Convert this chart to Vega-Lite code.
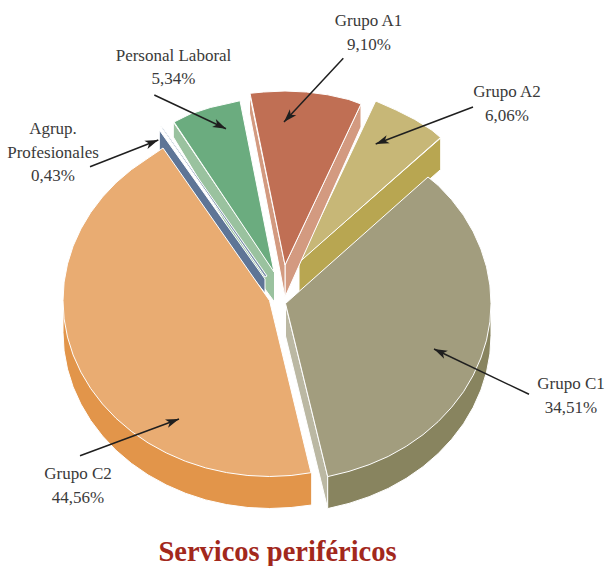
{"$schema":"https://vega.github.io/schema/vega-lite/v6.json","width":608,"height":566,"padding":0,"autosize":{"type":"none"},"background":"white","config":{"view":{"stroke":null}},
"datasets":{"faces":[
{"part":"A2 lateral","i":0,"x":299,"y":262},{"part":"A2 lateral","i":1,"x":440.7,"y":138},{"part":"A2 lateral","i":2,"x":440.7,"y":169.5},{"part":"A2 lateral","i":3,"x":299,"y":294},{"part":"A2 lateral","i":4,"x":299,"y":262},
{"part":"A2 top","i":0,"x":299.5,"y":262},{"part":"A2 top","i":1,"x":375.7,"y":101},{"part":"A2 top","i":2,"x":396.2,"y":110.1},{"part":"A2 top","i":3,"x":414.7,"y":119.4},{"part":"A2 top","i":4,"x":431.9,"y":130.2},{"part":"A2 top","i":5,"x":440.5,"y":137.5},{"part":"A2 top","i":6,"x":299.5,"y":262},
{"part":"A1 right","i":0,"x":285,"y":265},{"part":"A1 right","i":1,"x":361,"y":104},{"part":"A1 right","i":2,"x":361,"y":127},{"part":"A1 right","i":3,"x":285,"y":297},{"part":"A1 right","i":4,"x":285,"y":265},
{"part":"A1 left","i":0,"x":285,"y":265},{"part":"A1 left","i":1,"x":249.5,"y":94},{"part":"A1 left","i":2,"x":249.5,"y":113},{"part":"A1 left","i":3,"x":285,"y":297},{"part":"A1 left","i":4,"x":285,"y":265},
{"part":"A1 top","i":0,"x":285,"y":265},{"part":"A1 top","i":1,"x":250,"y":93.3},{"part":"A1 top","i":2,"x":263.5,"y":92},{"part":"A1 top","i":3,"x":285,"y":91},{"part":"A1 top","i":4,"x":306.5,"y":92},{"part":"A1 top","i":5,"x":327.8,"y":94.8},{"part":"A1 top","i":6,"x":348.7,"y":99.5},{"part":"A1 top","i":7,"x":361,"y":104},{"part":"A1 top","i":8,"x":285,"y":265},
{"part":"C1 inner","i":0,"x":285.5,"y":304},{"part":"C1 inner","i":1,"x":327.7,"y":476.6},{"part":"C1 inner","i":2,"x":327.7,"y":508.6},{"part":"C1 inner","i":3,"x":285.5,"y":336},{"part":"C1 inner","i":4,"x":285.5,"y":304},
{"part":"C1 lateral","i":0,"x":491,"y":303.5},{"part":"C1 lateral","i":1,"x":491,"y":335.5},{"part":"C1 lateral","i":2,"x":489.9,"y":353.9},{"part":"C1 lateral","i":3,"x":486.5,"y":372.2},{"part":"C1 lateral","i":4,"x":480.9,"y":390},{"part":"C1 lateral","i":5,"x":473.2,"y":407.3},{"part":"C1 lateral","i":6,"x":463.5,"y":423.75},{"part":"C1 lateral","i":7,"x":451.7,"y":439.2},{"part":"C1 lateral","i":8,"x":438.2,"y":453.6},{"part":"C1 lateral","i":9,"x":423,"y":466.7},{"part":"C1 lateral","i":10,"x":406.3,"y":478.3},{"part":"C1 lateral","i":11,"x":388.3,"y":488.4},{"part":"C1 lateral","i":12,"x":369.1,"y":496.7},{"part":"C1 lateral","i":13,"x":349,"y":503.4},{"part":"C1 lateral","i":14,"x":327.7,"y":508.6},{"part":"C1 lateral","i":15,"x":327.7,"y":476},{"part":"C1 lateral","i":16,"x":400,"y":350},{"part":"C1 lateral","i":17,"x":491,"y":303.5},
{"part":"C1 top","i":0,"x":285.5,"y":303.5},{"part":"C1 top","i":1,"x":428,"y":177},{"part":"C1 top","i":2,"x":438.2,"y":185.4},{"part":"C1 top","i":3,"x":451.7,"y":199.8},{"part":"C1 top","i":4,"x":463.5,"y":215.25},{"part":"C1 top","i":5,"x":473.2,"y":231.7},{"part":"C1 top","i":6,"x":480.9,"y":249},{"part":"C1 top","i":7,"x":486.5,"y":266.8},{"part":"C1 top","i":8,"x":489.9,"y":285.1},{"part":"C1 top","i":9,"x":491,"y":303.5},{"part":"C1 top","i":10,"x":489.9,"y":321.9},{"part":"C1 top","i":11,"x":486.5,"y":340.2},{"part":"C1 top","i":12,"x":480.9,"y":358},{"part":"C1 top","i":13,"x":473.2,"y":375.3},{"part":"C1 top","i":14,"x":463.5,"y":391.75},{"part":"C1 top","i":15,"x":451.7,"y":407.2},{"part":"C1 top","i":16,"x":438.2,"y":421.6},{"part":"C1 top","i":17,"x":423,"y":434.7},{"part":"C1 top","i":18,"x":406.3,"y":446.3},{"part":"C1 top","i":19,"x":388.3,"y":456.4},{"part":"C1 top","i":20,"x":369.1,"y":464.7},{"part":"C1 top","i":21,"x":349,"y":471.4},{"part":"C1 top","i":22,"x":327.7,"y":476.6},{"part":"C1 top","i":23,"x":285.5,"y":303.5},
{"part":"PL lateral","i":0,"x":173.3,"y":122},{"part":"PL lateral","i":1,"x":274.5,"y":272},{"part":"PL lateral","i":2,"x":274.5,"y":302},{"part":"PL lateral","i":3,"x":265,"y":289},{"part":"PL lateral","i":4,"x":173.3,"y":137},{"part":"PL lateral","i":5,"x":173.3,"y":122},
{"part":"PL top","i":0,"x":274,"y":272},{"part":"PL top","i":1,"x":174,"y":122},{"part":"PL top","i":2,"x":190.2,"y":114},{"part":"PL top","i":3,"x":210.3,"y":107.5},{"part":"PL top","i":4,"x":231.2,"y":102.8},{"part":"PL top","i":5,"x":240,"y":100.7},{"part":"PL top","i":6,"x":274,"y":272},
{"part":"AP lateral","i":0,"x":159.3,"y":130},{"part":"AP lateral","i":1,"x":265,"y":279},{"part":"AP lateral","i":2,"x":265,"y":293},{"part":"AP lateral","i":3,"x":159.3,"y":160},{"part":"AP lateral","i":4,"x":159.3,"y":130},
{"part":"AP top","i":0,"x":160.5,"y":126},{"part":"AP top","i":1,"x":163,"y":128},{"part":"AP top","i":2,"x":267,"y":276},{"part":"AP top","i":3,"x":265,"y":277},{"part":"AP top","i":4,"x":160.5,"y":126},
{"part":"C2 lateral","i":0,"x":311.7,"y":505},{"part":"C2 lateral","i":1,"x":291.1,"y":507.5},{"part":"C2 lateral","i":2,"x":269.5,"y":508.5},{"part":"C2 lateral","i":3,"x":247.9,"y":507.5},{"part":"C2 lateral","i":4,"x":226.6,"y":504.6},{"part":"C2 lateral","i":5,"x":205.7,"y":499.9},{"part":"C2 lateral","i":6,"x":185.5,"y":493.3},{"part":"C2 lateral","i":7,"x":166.25,"y":484.9},{"part":"C2 lateral","i":8,"x":148.1,"y":474.9},{"part":"C2 lateral","i":9,"x":131.3,"y":463.3},{"part":"C2 lateral","i":10,"x":116,"y":450.3},{"part":"C2 lateral","i":11,"x":102.5,"y":436},{"part":"C2 lateral","i":12,"x":90.7,"y":420.5},{"part":"C2 lateral","i":13,"x":80.9,"y":404.1},{"part":"C2 lateral","i":14,"x":73.1,"y":386.9},{"part":"C2 lateral","i":15,"x":67.5,"y":369.1},{"part":"C2 lateral","i":16,"x":64.1,"y":350.9},{"part":"C2 lateral","i":17,"x":63,"y":332.5},{"part":"C2 lateral","i":18,"x":63,"y":300.5},{"part":"C2 lateral","i":19,"x":200,"y":300},{"part":"C2 lateral","i":20,"x":311.7,"y":473},{"part":"C2 lateral","i":21,"x":311.7,"y":505},
{"part":"C2 top","i":0,"x":269.5,"y":300.5},{"part":"C2 top","i":1,"x":311,"y":472.7},{"part":"C2 top","i":2,"x":291.1,"y":475.5},{"part":"C2 top","i":3,"x":269.5,"y":476.5},{"part":"C2 top","i":4,"x":247.9,"y":475.5},{"part":"C2 top","i":5,"x":226.6,"y":472.6},{"part":"C2 top","i":6,"x":205.7,"y":467.9},{"part":"C2 top","i":7,"x":185.5,"y":461.3},{"part":"C2 top","i":8,"x":166.25,"y":452.9},{"part":"C2 top","i":9,"x":148.1,"y":442.9},{"part":"C2 top","i":10,"x":131.3,"y":431.3},{"part":"C2 top","i":11,"x":116,"y":418.3},{"part":"C2 top","i":12,"x":102.5,"y":404},{"part":"C2 top","i":13,"x":90.7,"y":388.5},{"part":"C2 top","i":14,"x":80.9,"y":372.1},{"part":"C2 top","i":15,"x":73.1,"y":354.9},{"part":"C2 top","i":16,"x":67.5,"y":337.1},{"part":"C2 top","i":17,"x":64.1,"y":318.9},{"part":"C2 top","i":18,"x":63,"y":300.5},{"part":"C2 top","i":19,"x":64.1,"y":282.1},{"part":"C2 top","i":20,"x":67.5,"y":263.9},{"part":"C2 top","i":21,"x":73.1,"y":246.1},{"part":"C2 top","i":22,"x":80.9,"y":228.9},{"part":"C2 top","i":23,"x":90.7,"y":212.5},{"part":"C2 top","i":24,"x":102.5,"y":197},{"part":"C2 top","i":25,"x":116,"y":182.7},{"part":"C2 top","i":26,"x":131.3,"y":169.7},{"part":"C2 top","i":27,"x":148.1,"y":158.1},{"part":"C2 top","i":28,"x":163,"y":148},{"part":"C2 top","i":29,"x":269.5,"y":300.5}
],
"arrows":[
{"grupo":"Grupo A1","x":343.3,"y":58.3,"x2":284,"y2":122},
{"grupo":"Grupo A2","x":473,"y":107,"x2":375.7,"y2":144},
{"grupo":"Personal Laboral","x":154.3,"y":95,"x2":226,"y2":128.7},
{"grupo":"Agrup. Profesionales","x":90,"y":166.7,"x2":158.3,"y2":140},
{"grupo":"Grupo C1","x":529,"y":394.3,"x2":434,"y2":349},
{"grupo":"Grupo C2","x":80,"y":455.7,"x2":179,"y2":419}
],
"labels":[
{"t":"Grupo A1","x":368.5,"y":26},{"t":"9,10%","x":369,"y":50},
{"t":"Grupo A2","x":507,"y":97},{"t":"6,06%","x":507,"y":121},
{"t":"Personal Laboral","x":173.5,"y":61},{"t":"5,34%","x":173.5,"y":84},
{"t":"Agrup.","x":53,"y":134},{"t":"Profesionales","x":53,"y":158},{"t":"0,43%","x":53,"y":181},
{"t":"Grupo C1","x":571,"y":389},{"t":"34,51%","x":571,"y":413},
{"t":"Grupo C2","x":78,"y":479},{"t":"44,56%","x":78,"y":503}
],
"title":[{"t":"Servicos periféricos","x":277.5,"y":561}]},
"encoding":{"x":{"field":"x","type":"quantitative","axis":null,"scale":{"domain":[0,608],"nice":false,"zero":false}},"y":{"field":"y","type":"quantitative","axis":null,"scale":{"domain":[0,566],"reverse":true,"nice":false,"zero":false}}},
"layer":[
{"data":{"name":"faces"},"mark":{"type":"line","stroke":"white","strokeWidth":1,"strokeJoin":"round","clip":false},"encoding":{"order":{"field":"i","type":"quantitative"},"detail":{"field":"part"},"fill":{"field":"part","type":"nominal","legend":null,"scale":{"domain":["A2 lateral","A2 top","A1 right","A1 left","A1 top","C1 inner","C1 lateral","C1 top","PL lateral","PL top","AP lateral","AP top","C2 lateral","C2 top"],"range":["#b8a651","#c7b777","#d39a80","#d39a80","#c06f54","#bbb8a3","#88845f","#a29d7e","#9ac29f","#6bac7f","#5e7596","#7c90ab","#e2954a","#e9ac72"]}}}},
{"data":{"name":"arrows"},"mark":{"type":"rule","stroke":"#1f1f1f","strokeWidth":1.5},"encoding":{"x2":{"field":"x2"},"y2":{"field":"y2"}}},
{"data":{"name":"arrows"},"transform":[{"calculate":"atan2(datum.x2-datum.x,datum.y-datum.y2)*180/PI","as":"ang"}],"mark":{"type":"point","filled":true,"color":"#1f1f1f","opacity":1,"size":49,"shape":"M0,0 L1.25,3.8 L0,2.8 L-1.25,3.8 Z"},"encoding":{"x":{"field":"x2","type":"quantitative"},"y":{"field":"y2","type":"quantitative"},"angle":{"field":"ang","type":"quantitative","scale":null}}},
{"data":{"name":"labels"},"mark":{"type":"text","font":"Liberation Serif","fontSize":17,"color":"#3a3a3a","align":"center","baseline":"alphabetic"},"encoding":{"text":{"field":"t"}}},
{"data":{"name":"title"},"mark":{"type":"text","font":"Liberation Serif","fontSize":28.5,"fontWeight":"bold","color":"#a2281c","align":"center","baseline":"alphabetic"},"encoding":{"text":{"field":"t"}}}
]}
